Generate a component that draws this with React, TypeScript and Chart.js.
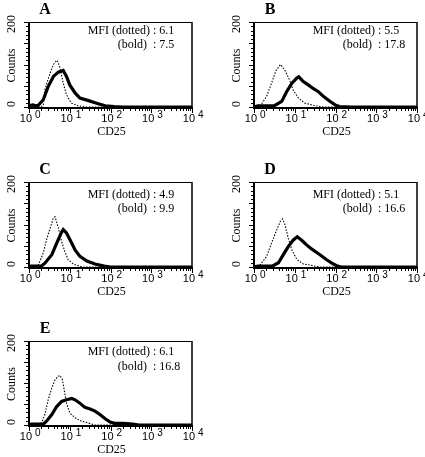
import React, { useEffect, useRef } from "react";
import { Chart, registerables } from "chart.js";
Chart.register(...registerables);

// ---------- data (x in decades of CD25 fluorescence, y in counts) ----------
const panelLetters = ["A", "B", "C", "D", "E"];
const mfiDotted = ["6.1", "5.5", "4.9", "5.1", "6.1"];
const mfiBold = ["7.5", "17.8", "9.9", "16.6", "16.8"];
const xDecades = [0, 1, 2, 3, 4];
const yLabelValues = [0, 200];

const aDottedX = [0, 0.3, 0.35, 0.39, 0.45, 0.52, 0.6, 0.68, 0.72, 0.76, 0.84, 0.92, 1.0, 1.05, 1.2, 1.4, 4];
const aDottedY = [0, 0, 5, 40, 60, 80, 100, 110, 104, 92, 56, 29, 15, 9, 3, 0, 0];
const aBoldX = [0, 0.05, 0.1, 0.15, 0.23, 0.35, 0.47, 0.6, 0.72, 0.84, 0.92, 1.0, 1.13, 1.25, 1.46, 1.66, 1.87, 2.1, 2.3, 4];
const aBoldY = [0, 4, 5, 3, 4, 17, 48, 72, 82, 86, 72, 52, 33, 21, 15, 9, 3, 1, 0, 0];

const bDottedX = [0, 0.15, 0.31, 0.43, 0.54, 0.65, 0.76, 0.87, 0.96, 1.09, 1.25, 1.46, 1.7, 4];
const bDottedY = [0, 2, 25, 56, 86, 100, 86, 64, 40, 21, 9, 4, 0, 0];
const bBoldX = [0, 0.1, 0.5, 0.68, 0.8, 0.93, 1.05, 1.1, 1.21, 1.33, 1.46, 1.58, 1.7, 1.87, 1.99, 2.1, 2.4, 4];
const bBoldY = [0, 3, 3, 13, 36, 56, 68, 71, 60, 52, 43, 36, 25, 13, 5, 1, 0, 0];

const cDottedX = [0, 0.15, 0.23, 0.35, 0.43, 0.52, 0.6, 0.64, 0.72, 0.8, 0.88, 0.96, 1.09, 1.3, 4];
const cDottedY = [0, 2, 5, 33, 64, 92, 116, 118, 92, 60, 36, 17, 7, 0, 0];
const cBoldX = [0, 0.05, 0.3, 0.39, 0.56, 0.68, 0.79, 0.84, 0.92, 1.05, 1.13, 1.25, 1.42, 1.62, 1.85, 2.0, 4];
const cBoldY = [0, 2, 2, 9, 29, 56, 80, 88, 80, 56, 40, 25, 14, 7, 2, 0, 0];

const dDottedX = [0, 0.15, 0.31, 0.43, 0.56, 0.65, 0.7, 0.76, 0.84, 0.93, 1.05, 1.21, 1.4, 1.6, 4];
const dDottedY = [0, 5, 25, 56, 88, 108, 113, 100, 68, 40, 18, 7, 4, 0, 0];
const dBoldX = [0, 0.1, 0.45, 0.6, 0.72, 0.84, 0.96, 1.06, 1.17, 1.29, 1.42, 1.54, 1.66, 1.78, 1.91, 2.05, 2.15, 4];
const dBoldY = [0, 2, 2, 10, 29, 48, 63, 71, 63, 52, 42, 34, 26, 17, 9, 2, 0, 0];

const eDottedX = [0, 0.2, 0.31, 0.39, 0.47, 0.56, 0.64, 0.72, 0.76, 0.82, 0.87, 0.92, 1.0, 1.13, 1.29, 1.45, 1.6, 4];
const eDottedY = [0, 0, 5, 25, 60, 88, 108, 116, 118, 108, 80, 52, 29, 17, 9, 5, 0, 0];
const eBoldX = [0, 0.05, 0.35, 0.43, 0.56, 0.68, 0.8, 0.92, 1.05, 1.13, 1.25, 1.37, 1.5, 1.62, 1.74, 1.87, 1.99, 2.1, 2.3, 2.55, 2.7, 4];
const eBoldY = [0, 2, 2, 9, 25, 44, 56, 60, 63, 60, 52, 42, 38, 33, 25, 15, 7, 4, 4, 2, 0, 0];

const dottedSeries = [
  [aDottedX, aDottedY],
  [bDottedX, bDottedY],
  [cDottedX, cDottedY],
  [dDottedX, dDottedY],
  [eDottedX, eDottedY],
];
const boldSeries = [
  [aBoldX, aBoldY],
  [bBoldX, bBoldY],
  [cBoldX, cBoldY],
  [dBoldX, dBoldY],
  [eBoldX, eBoldY],
];

// ---------- layout (page pixels) ----------
const W = 425;
const H = 457;
const boxes = [
  { l: 29, t: 22, r: 192, b: 107, row1: 9, row2: 23 },
  { l: 254, t: 22, r: 417, b: 107, row1: 9, row2: 23 },
  { l: 29, t: 182, r: 192, b: 267, row1: 13, row2: 27 },
  { l: 254, t: 182, r: 417, b: 267, row1: 13, row2: 27 },
  { l: 29, t: 341, r: 192, b: 425, row1: 11, row2: 26 },
];

const SERIF = "'Liberation Serif', 'Times New Roman', serif";
const SANS = "'Liberation Sans', Arial, sans-serif";

const toPoints = (xs: number[], ys: number[]) => xs.map((x, i) => ({ x, y: ys[i] }));

const flowPlugin = {
  id: "flowAxes",
  afterDatasetsDraw(chart: any, _args: any, opts: any) {
    const { ctx, chartArea: ca, scales } = chart;
    const xs = scales.x;
    const ys = scales.y;
    ctx.save();
    ctx.strokeStyle = "#000";
    ctx.fillStyle = "#000";

    // frame
    ctx.lineWidth = 1;
    ctx.beginPath();
    ctx.moveTo(ca.left, ca.top + 0.5);
    ctx.lineTo(ca.right, ca.top + 0.5);
    ctx.stroke();
    ctx.lineWidth = 1.5;
    ctx.beginPath();
    ctx.moveTo(ca.right, ca.top);
    ctx.lineTo(ca.right, ca.bottom);
    ctx.stroke();
    ctx.lineWidth = 2;
    ctx.beginPath();
    ctx.moveTo(ca.left, ca.top);
    ctx.lineTo(ca.left, ca.bottom + 1);
    ctx.lineTo(ca.right + 1, ca.bottom + 1);
    ctx.stroke();

    // y ticks
    ctx.lineWidth = 1;
    for (let v = 0; v <= 200; v += 10) {
      const y = Math.round(ys.getPixelForValue(v)) + 0.5;
      const len = v % 50 === 0 ? 5 : 3;
      ctx.beginPath();
      ctx.moveTo(ca.left - len, y);
      ctx.lineTo(ca.left, y);
      ctx.stroke();
    }

    // x ticks (log)
    for (let d = 0; d < 4; d++) {
      for (let k = 1; k <= 9; k++) {
        const x = Math.round(xs.getPixelForValue(d + Math.log10(k))) + 0.5;
        const len = k === 1 ? 5 : 3;
        ctx.beginPath();
        ctx.moveTo(x, ca.bottom + 1);
        ctx.lineTo(x, ca.bottom + 1 + len);
        ctx.stroke();
      }
    }
    {
      const x = Math.round(xs.getPixelForValue(4)) + 0.5;
      ctx.beginPath();
      ctx.moveTo(x, ca.bottom + 1);
      ctx.lineTo(x, ca.bottom + 6);
      ctx.stroke();
    }

    // x tick labels: 10^d
    ctx.textBaseline = "middle";
    xDecades.forEach((d) => {
      const px = xs.getPixelForValue(d);
      ctx.font = `11px ${SANS}`;
      ctx.textAlign = "right";
      ctx.fillText("10", px + 3, ca.bottom + 12);
      ctx.font = `10px ${SANS}`;
      ctx.textAlign = "left";
      ctx.fillText(String(d), px + 6, ca.bottom + 8);
    });

    // x title
    ctx.font = `12px ${SERIF}`;
    ctx.textAlign = "center";
    ctx.fillText("CD25", (ca.left + ca.right) / 2 + 1, ca.bottom + 25);

    // y labels (rotated)
    const yl = ca.left - 17;
    yLabelValues.forEach((v) => {
      const py = ys.getPixelForValue(v) + (v === 0 ? -3 : 2);
      ctx.save();
      ctx.translate(yl, py);
      ctx.rotate(-Math.PI / 2);
      ctx.font = `12px ${SERIF}`;
      ctx.textAlign = "center";
      ctx.textBaseline = "middle";
      ctx.fillText(String(v), 0, 0);
      ctx.restore();
    });
    ctx.save();
    ctx.translate(yl, (ca.top + ca.bottom) / 2 + 1);
    ctx.rotate(-Math.PI / 2);
    ctx.font = `12px ${SERIF}`;
    ctx.textAlign = "center";
    ctx.textBaseline = "middle";
    ctx.fillText("Counts", 0, 0);
    ctx.restore();

    // panel letter
    ctx.font = `bold 16px ${SERIF}`;
    ctx.textAlign = "center";
    ctx.textBaseline = "middle";
    ctx.fillText(opts.letter, ca.left + 16, ca.top - 12);

    // MFI annotation
    const colX = ca.left + 124;
    ctx.font = `12px ${SERIF}`;
    ctx.textBaseline = "middle";
    ctx.textAlign = "right";
    ctx.fillText("MFI (dotted)", colX - 3, ca.top + opts.row1);
    ctx.fillText("(bold)", colX - 6, ca.top + opts.row2);
    ctx.textAlign = "left";
    ctx.fillText(": " + opts.dotted, colX, ca.top + opts.row1);
    ctx.fillText(": " + opts.bold, colX, ca.top + opts.row2);

    ctx.restore();
  },
};

function Panel({ idx }: { idx: number }) {
  const ref = useRef<HTMLCanvasElement | null>(null);
  useEffect(() => {
    if (!ref.current) return;
    const b = boxes[idx];
    const [dx, dy] = dottedSeries[idx];
    const [bx, by] = boldSeries[idx];
    const chart = new Chart(ref.current, {
      type: "line",
      data: {
        datasets: [
          {
            label: "bold",
            data: toPoints(bx, by),
            borderColor: "#000",
            borderWidth: 3.2,
            pointRadius: 0,
            fill: false,
            tension: 0,
          },
          {
            label: "dotted",
            data: toPoints(dx, dy),
            borderColor: "#000",
            borderWidth: 1.1,
            borderDash: [1.5, 1.5],
            pointRadius: 0,
            fill: false,
            tension: 0,
          },
        ],
      },
      options: {
        animation: false,
        responsive: false,
        events: [],
        layout: { padding: { left: b.l, top: b.t, right: W - b.r, bottom: H - b.b } },
        scales: {
          x: { type: "linear", min: 0, max: 4, display: false },
          y: { type: "linear", min: 0, max: 200, display: false },
        },
        plugins: {
          legend: { display: false },
          tooltip: { enabled: false },
          flowAxes: {
            letter: panelLetters[idx],
            dotted: mfiDotted[idx],
            bold: mfiBold[idx],
            row1: b.row1,
            row2: b.row2,
          },
        } as any,
      },
      plugins: [flowPlugin],
    } as any);
    return () => chart.destroy();
  }, [idx]);
  return (
    <canvas
      ref={ref}
      width={W}
      height={H}
      style={{ position: "absolute", left: 0, top: 0, width: W, height: H }}
    />
  );
}

export default function App() {
  return (
    <div
      style={{
        position: "absolute",
        left: 0,
        top: 0,
        width: W,
        height: H,
        background: "#fff",
        overflow: "hidden",
      }}
    >
      {[0, 1, 2, 3, 4].map((i) => (
        <Panel key={i} idx={i} />
      ))}
    </div>
  );
}
